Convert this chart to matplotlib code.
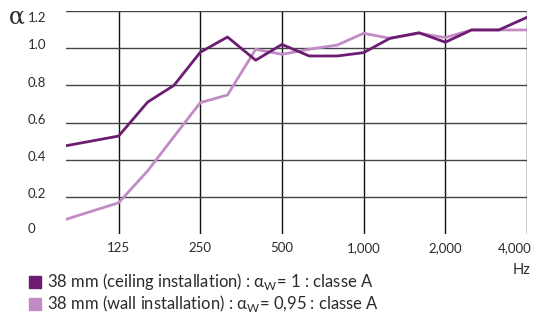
import numpy as np
import matplotlib
matplotlib.use("Agg")
import matplotlib.pyplot as plt
from matplotlib.patches import Rectangle
import matplotlib.transforms as mtransforms

# third-octave frequencies (Hz)
freqs = [80, 125, 160, 200, 250, 315, 400, 500, 630, 800, 1000, 1250, 1600, 2000, 2500, 3150, 4000]
ceiling = [0.475, 0.527, 0.71, 0.80, 0.978, 1.06, 0.935, 1.02, 0.958, 0.958, 0.976, 1.053, 1.083, 1.032, 1.098, 1.098, 1.166]
wall = [0.079, 0.168, 0.34, 0.524, 0.707, 0.748, 0.994, 0.967, 0.994, 1.017, 1.08, 1.053, 1.08, 1.057, 1.098, 1.098, 1.098]

xticks = [125, 250, 500, 1000, 2000, 4000]
xlabels = ["125", "250", "500", "1,000", "2,000", "4,000"]
yticks = [0, 0.2, 0.4, 0.6, 0.8, 1.0, 1.2]
ylabels = ["0", "0.2", "0.4", "0.6", "0.8", "1.0", "1.2"]

dark = "#6c1d72"
light = "#c28bc5"
txt = "#2b2b2b"
font = ["Lato", "DejaVu Sans"]

plt.rcParams["mathtext.fontset"] = "custom"
plt.rcParams["mathtext.rm"] = "Lato"

fig = plt.figure(figsize=(5.34, 3.25), dpi=100)
ax = fig.add_axes([66 / 534, 1 - 234 / 325, (527 - 66) / 534, (234 - 11) / 325])
ax.set_xscale("log")
ax.set_xlim(80, 4000)
ax.set_ylim(0, 1.2)

for f in xticks:
    ax.axvline(f, color="#111111", lw=1.0, zorder=1)
for v in yticks[1:]:
    ax.axhline(v, color="#444444", lw=1.0, zorder=1)

ax.plot(freqs, wall, color=light, lw=2.0, zorder=3)
ax.plot(freqs, ceiling, color=dark, lw=2.0, zorder=4)

for s in ax.spines.values():
    s.set_visible(False)
ax.set_xticks([])
ax.set_yticks([])
ax.minorticks_off()

# y labels, left aligned
ytrans = mtransforms.blended_transform_factory(fig.transFigure, ax.transData)
for v, lab in zip(yticks, ylabels):
    va = "center"
    if v == 1.2:
        va = "top"
        off = -0.005
    elif v == 0:
        off = 0.025
    else:
        off = 0.015
    ax.text(28 / 534, v + off, lab, transform=ytrans, ha="left", va=va,
            fontsize=9.5, color=txt, family=font)

# x labels
xtrans = mtransforms.blended_transform_factory(ax.transData, fig.transFigure)
for f, lab in zip(xticks, xlabels):
    ha = "center"
    xx = f
    if f == 4000:
        ha = "right"
        xx = f * 1.04
    ax.text(xx, 1 - 248 / 325, lab, transform=xtrans, ha=ha, va="center",
            fontsize=9.5, color=txt, family=font, clip_on=False)

fig.text(531 / 534, 1 - 270 / 325, "Hz", ha="right", va="center", fontsize=10.5, color=txt, family=font)
fig.text(9 / 534, 1 - 17 / 325, "α", ha="left", va="center", fontsize=17, color=txt, family=["DejaVu Serif"])

# legend
entries = [(dark, "38 mm (ceiling installation) : α$_{\\mathregular{W}}$= 1 : classe A"),
           (light, "38 mm (wall installation) : α$_{\\mathregular{W}}$= 0,95 : classe A")]
for i, (c, lab) in enumerate(entries):
    yc = 282 + 22 * i
    fig.patches.append(Rectangle((29 / 534, 1 - (yc + 6) / 325), 12 / 534, 12 / 325,
                                 transform=fig.transFigure, color=c))
    fig.text(47 / 534, 1 - yc / 325, lab, ha="left", va="center", fontsize=12,
             color=txt, family=font)

fig.savefig("out.png", dpi=100)
